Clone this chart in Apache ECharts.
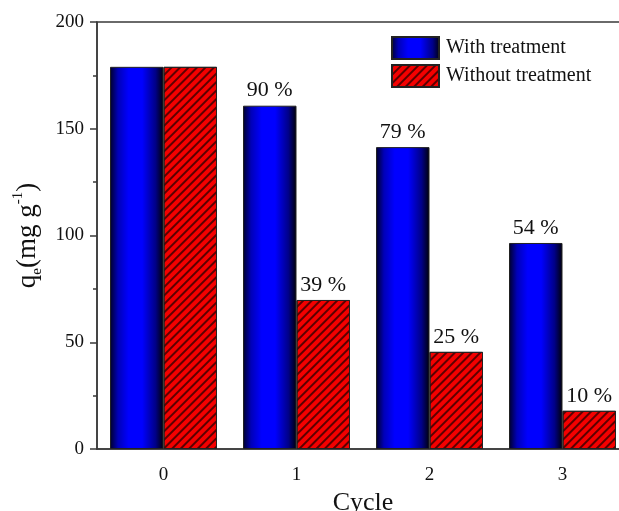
<!DOCTYPE html>
<html>
<head>
<meta charset="utf-8">
<script src="https://cdn.jsdelivr.net/npm/echarts@6/dist/echarts.min.js"></script>
<style>
  html, body { margin: 0; padding: 0; background: #fff; overflow: hidden; }
  #chart { width: 619px; height: 511px; }
</style>
</head>
<body>
<div id="chart"></div>
<script>
// Adsorption capacity over regeneration cycles
const cycles = ['0', '1', '2', '3'];
const withTreatment = [179, 160.8, 141.4, 96.5];
const withoutTreatment = [179, 69.8, 45.5, 17.9];
const withLabels = ['', '90 %', '79 %', '54 %'];
const withoutLabels = ['', '39 %', '25 %', '10 %'];
const yTicks = [0, 50, 100, 150, 200];

const SERIF = '"Liberation Serif", "Times New Roman", serif';
const AXIS_COLOR = '#3a3a3a';

const chart = echarts.init(document.getElementById('chart'), null, { renderer: 'canvas' });

const blueFill = new echarts.graphic.LinearGradient(0, 0, 1, 0, [
  { offset: 0, color: '#000028' },
  { offset: 0.15, color: '#0000b8' },
  { offset: 0.35, color: '#0000ff' },
  { offset: 0.6, color: '#0000ff' },
  { offset: 0.85, color: '#000088' },
  { offset: 1, color: '#000008' }
]);

const labelStyle = {
  show: true,
  position: 'top',
  distance: 4,
  fontFamily: SERIF,
  fontSize: 22,
  color: '#111',
  backgroundColor: '#fff',
  padding: [1, 2, 0, 2]
};

chart.setOption({
  animation: false,
  backgroundColor: '#fff',
  grid: {
    left: 97, top: 22, width: 532, bottom: 62,
    outerBoundsMode: 'none',
    containLabel: false,
    show: true, borderColor: AXIS_COLOR, borderWidth: 1.5, backgroundColor: 'transparent'
  },
  legend: {
    orient: 'vertical',
    left: 391, top: 36,
    padding: 0,
    itemWidth: 47, itemHeight: 22, itemGap: 4,
    icon: 'rect',
    textStyle: { fontFamily: SERIF, fontSize: 20, color: '#111', padding: [0, 0, 0, 2] },
    data: ['With treatment', 'Without treatment']
  },
  xAxis: [{
    type: 'category',
    data: cycles,
    name: 'Cycle',
    nameLocation: 'middle',
    nameGap: 38,
    nameTextStyle: { fontFamily: SERIF, fontSize: 26, color: '#111' },
    axisLine: { lineStyle: { color: AXIS_COLOR, width: 1.5 } },
    axisTick: { alignWithLabel: true, length: 7, lineStyle: { color: AXIS_COLOR, width: 1.5 } },
    axisLabel: { fontFamily: SERIF, fontSize: 19, color: '#111', margin: 17 }
  }, {
    // short ticks on the category boundaries
    type: 'category',
    data: cycles,
    position: 'bottom',
    axisLine: { show: false },
    axisTick: { alignWithLabel: false, length: 4, lineStyle: { color: AXIS_COLOR, width: 1.5 } },
    axisLabel: { show: false }
  }],
  yAxis: {
    type: 'value',
    min: yTicks[0], max: yTicks[yTicks.length - 1], interval: 50,
    name: '{n|q}{sub|e}{n|(mg g}{sup|-1}{n|)}',
    nameLocation: 'middle',
    nameRotate: 90,
    nameGap: 50,
    nameTextStyle: {
      fontFamily: SERIF, color: '#111',
      rich: {
        n: { fontFamily: SERIF, fontSize: 27, color: '#111', lineHeight: 34, verticalAlign: 'middle' },
        sub: { fontFamily: SERIF, fontSize: 15, color: '#111', lineHeight: 34, verticalAlign: 'bottom' },
        sup: { fontFamily: SERIF, fontSize: 15, color: '#111', lineHeight: 34, verticalAlign: 'top' }
      }
    },
    axisLine: { show: true, lineStyle: { color: AXIS_COLOR, width: 1.5 } },
    axisTick: { show: true, length: 7, lineStyle: { color: AXIS_COLOR, width: 1.5 } },
    minorTick: { show: true, splitNumber: 2, length: 4, lineStyle: { color: AXIS_COLOR, width: 1.5 } },
    splitLine: { show: false },
    axisLabel: { fontFamily: SERIF, fontSize: 19, color: '#111', margin: 13 }
  },
  series: [{
    name: 'With treatment',
    type: 'bar',
    barWidth: 53.5,
    barGap: '0%',
    data: withTreatment.map((v, i) => ({
      value: v,
      label: Object.assign({}, labelStyle, { show: withLabels[i] !== '', formatter: withLabels[i] })
    })),
    itemStyle: { color: blueFill, borderColor: '#222', borderWidth: 1 }
  }, {
    name: 'Without treatment',
    type: 'bar',
    barWidth: 53.5,
    barGap: '0%',
    data: withoutTreatment.map((v, i) => ({
      value: v,
      label: Object.assign({}, labelStyle, { show: withoutLabels[i] !== '', formatter: withoutLabels[i] })
    })),
    itemStyle: {
      color: '#f40000',
      borderColor: '#222',
      borderWidth: 1,
      decal: {
        symbol: 'rect',
        color: 'rgba(20,0,0,0.68)',
        backgroundColor: null,
        dashArrayX: [1, 0],
        dashArrayY: [1.4, 3.3],
        rotation: -Math.PI / 4
      }
    }
  }]
});
</script>
</body>
</html>
